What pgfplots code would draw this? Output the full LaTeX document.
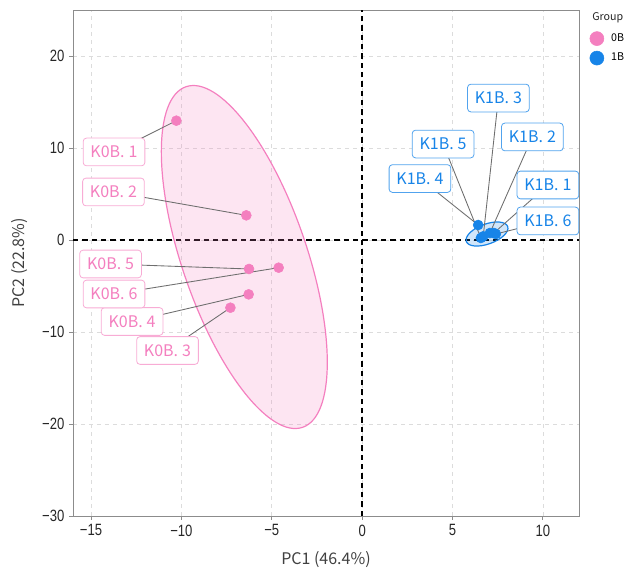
\documentclass[border=0pt]{standalone}
\usepackage{pgfplots}
\pgfplotsset{compat=1.18}
\usepackage{fontspec}
\setmainfont{Noto Sans CJK SC}
\newfontfamily\tickfont[FakeStretch=0.8]{Liberation Sans}
\definecolor{pinkc}{HTML}{F47FBF}
\definecolor{bluec}{HTML}{1784E8}
\definecolor{gridc}{HTML}{DCDCDC}
\definecolor{framec}{HTML}{8C8C8C}
\definecolor{segc}{HTML}{6E6E6E}
\tikzset{
 lab/.style={fill=white, rounded corners=2.5pt, line width=0.6pt, inner xsep=5.5pt, inner ysep=6pt, text height=8.8pt, text depth=0pt, font=\fontsize{12}{14}\selectfont},
 pinklab/.style={lab, draw=pinkc!65, text=pinkc},
 bluelab/.style={lab, draw=bluec!75, text=bluec},
 seg/.style={segc, line width=0.65pt}
}
\begin{document}
\begin{tikzpicture}
\useasboundingbox (-54.75pt,-41.25pt) rectangle (419.25pt,387pt);
\begin{axis}[
 at={(0pt,0pt)}, anchor=south west,
 scale only axis, width=379.5pt, height=379.5pt,
 xmin=-16, xmax=12, ymin=-30, ymax=25,
 xtick={-15,-10,-5,0,5,10}, xticklabels={−15,−10,−5,0,5,10},
 ytick={-30,-20,-10,0,10,20}, yticklabels={−30,−20,−10,0,10,20},
 tick label style={font=\tickfont\fontsize{12.25}{14}\selectfont, text=black!85},
 tick align=outside, major tick length=3pt, tick pos=left,
 tick style={framec, line width=0.6pt},
 axis line style={framec, line width=0.6pt},
 grid=major, major grid style={gridc, dash pattern=on 3pt off 3pt, line width=0.5pt},
 xlabel={PC1 (46.4\%)}, ylabel={PC2 (22.8\%)},
 label style={font=\fontsize{12}{14}\selectfont, text=black!75},
 xlabel style={at={(axis description cs:0.5,-0.086)}, anchor=center},
 ylabel style={at={(axis description cs:-0.105,0.5)}, anchor=center},
 clip=false,
 legend style={at={(axis description cs:1.021,0.959)}, anchor=north west, draw=none, fill=none, font=\fontsize{8}{9}\selectfont, row sep=3.25pt, inner sep=0pt},
 legend cell align=left,
 legend image post style={mark size=5.25pt},
]
% zero lines
\draw[black, line width=1.1pt, dash pattern=on 4pt off 3pt] (axis cs:0,-30) -- (axis cs:0,25);
\draw[black, line width=1.1pt, dash pattern=on 4pt off 3pt] (axis cs:-16,0) -- (axis cs:12,0);
% confidence ellipses
\draw[pinkc, line width=0.9pt, fill=pinkc, fill opacity=0.2, rotate around={-71.1:(axis cs:-6.52,-1.85)}] (axis cs:-6.52,-1.85) ellipse [x radius=135pt, y radius=46.8pt];
\draw[bluec, line width=0.9pt, fill=bluec, fill opacity=0.2, rotate around={20:(axis cs:6.91,0.65)}] (axis cs:6.91,0.65) ellipse [x radius=16.5pt, y radius=7.5pt];
% segments
\draw[seg] (axis cs:-13.73,9.57) -- (axis cs:-10.28,12.97);
\draw[seg] (axis cs:-13.76,5.22) -- (axis cs:-6.41,2.68);
\draw[seg] (axis cs:-10.77,-12.01) -- (axis cs:-7.29,-7.36);
\draw[seg] (axis cs:-12.73,-8.86) -- (axis cs:-6.28,-5.91);
\draw[seg] (axis cs:-13.92,-2.61) -- (axis cs:-6.26,-3.15);
\draw[seg] (axis cs:-13.73,-5.87) -- (axis cs:-4.62,-3.01);
\draw[seg] (axis cs:10.28,5.98) -- (axis cs:7.29,0.76);
\draw[seg] (axis cs:9.42,11.20) -- (axis cs:7.07,0.76);
\draw[seg] (axis cs:7.54,15.43) -- (axis cs:6.70,0.40);
\draw[seg] (axis cs:3.20,6.68) -- (axis cs:6.42,1.63);
\draw[seg] (axis cs:4.48,10.43) -- (axis cs:6.57,0.22);
\draw[seg] (axis cs:10.28,2.07) -- (axis cs:7.40,0.65);
% points
\addplot[only marks, mark=*, mark size=3.75pt, color=pinkc] coordinates {
 (-10.28,12.97) (-6.41,2.68) (-7.29,-7.36) (-6.28,-5.91) (-6.26,-3.15) (-4.62,-3.01)};
\addlegendentry{\hspace{3.5pt}0B}
\addplot[only marks, mark=*, mark size=3.75pt, color=bluec] coordinates {
 (7.29,0.76) (7.07,0.76) (6.70,0.40) (6.42,1.63) (6.57,0.22) (7.40,0.65)};
\addlegendentry{\hspace{3.5pt}1B}
% labels
\node[pinklab] at (axis cs:-13.73,9.57) {K0B.\hspace{0.25em}1};
\node[pinklab] at (axis cs:-13.76,5.22) {K0B.\hspace{0.25em}2};
\node[pinklab] at (axis cs:-10.77,-12.01) {K0B.\hspace{0.25em}3};
\node[pinklab] at (axis cs:-12.73,-8.86) {K0B.\hspace{0.25em}4};
\node[pinklab] at (axis cs:-13.92,-2.61) {K0B.\hspace{0.25em}5};
\node[pinklab] at (axis cs:-13.73,-5.87) {K0B.\hspace{0.25em}6};
\node[bluelab] at (axis cs:10.28,5.98) {K1B.\hspace{0.25em}1};
\node[bluelab] at (axis cs:9.42,11.20) {K1B.\hspace{0.25em}2};
\node[bluelab] at (axis cs:7.54,15.43) {K1B.\hspace{0.25em}3};
\node[bluelab] at (axis cs:3.20,6.68) {K1B.\hspace{0.25em}4};
\node[bluelab] at (axis cs:4.48,10.43) {K1B.\hspace{0.25em}5};
\node[bluelab] at (axis cs:10.28,2.07) {K1B.\hspace{0.25em}6};
\node[anchor=west, font=\fontsize{8}{9}\selectfont, text=black!85, inner sep=0pt] at (axis description cs:1.0257,0.984) {Group};
\end{axis}
\end{tikzpicture}
\end{document}
